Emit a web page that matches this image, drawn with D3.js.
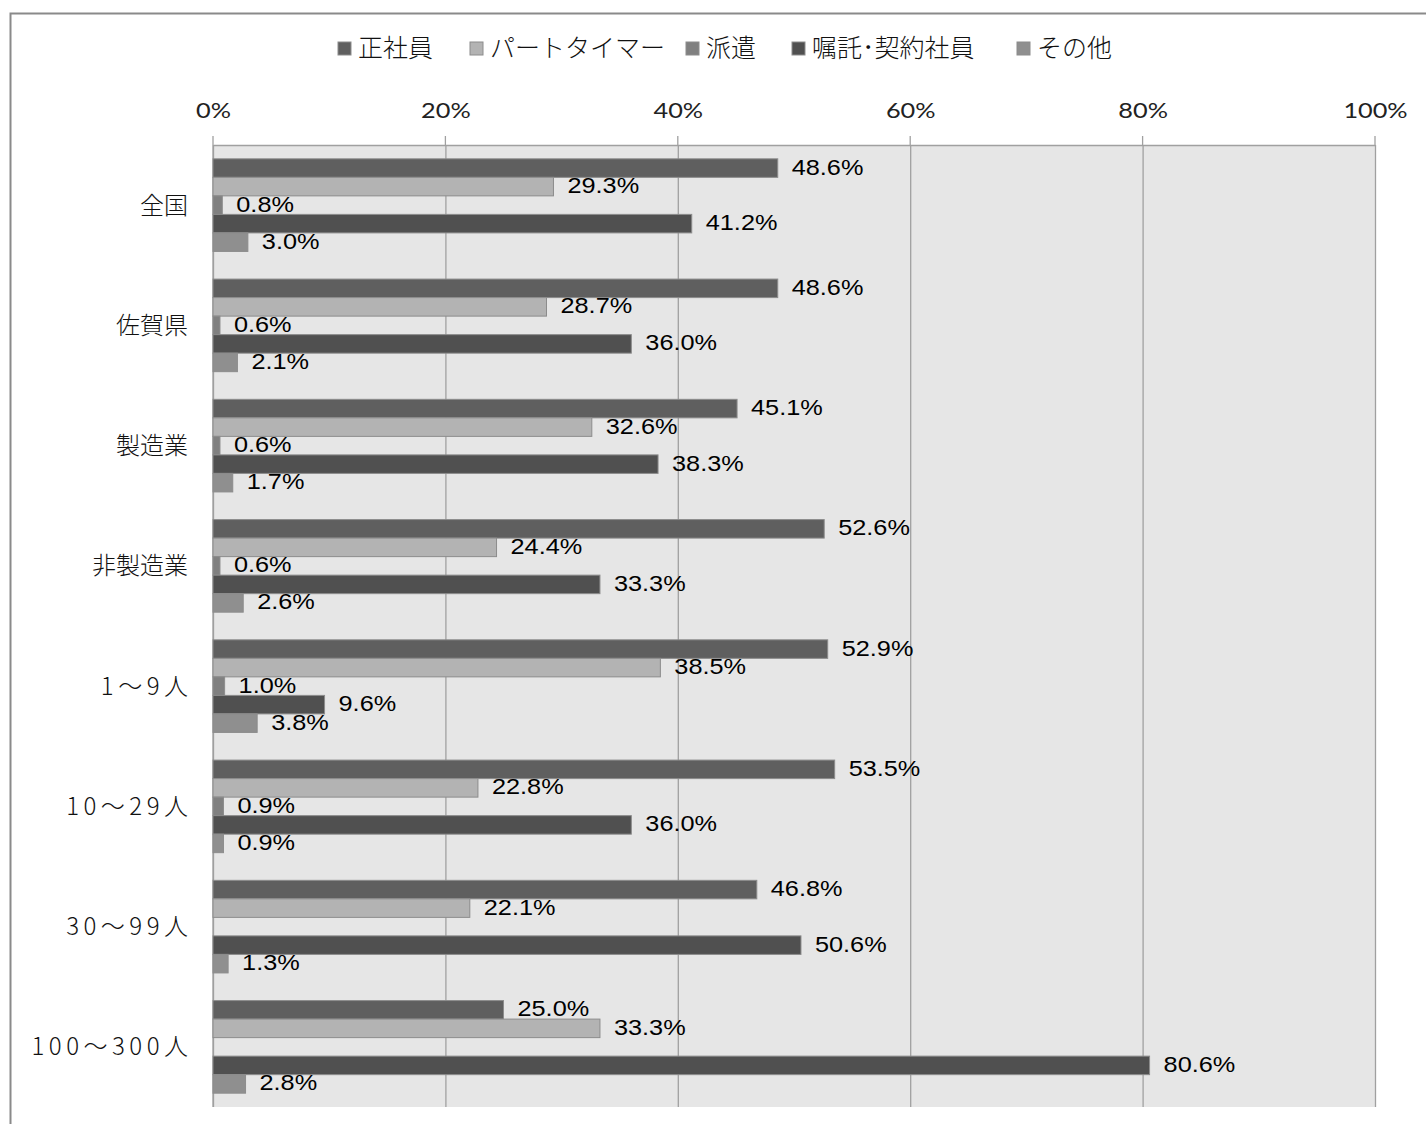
<!DOCTYPE html>
<html>
<head>
<meta charset="utf-8">
<script src="https://cdn.jsdelivr.net/npm/d3@7"></script>
<style>
  html, body { margin: 0; padding: 0; background: #fff; }
  svg { display: block; }
</style>
</head>
<body>
<svg id="chart" width="1426" height="1124"></svg>
<script>
// Employment type breakdown by region / industry / company size (%)
const categories = ["全国", "佐賀県", "製造業", "非製造業", "1～9人", "10～29人", "30～99人", "100～300人"];
const seriesNames = ["正社員", "パートタイマー", "派遣", "嘱託･契約社員", "その他"];
const seiShain   = [48.6, 48.6, 45.1, 52.6, 52.9, 53.5, 46.8, 25.0];
const partTimer  = [29.3, 28.7, 32.6, 24.4, 38.5, 22.8, 22.1, 33.3];
const haken      = [0.8, 0.6, 0.6, 0.6, 1.0, 0.9, null, null];
const shokutaku  = [41.2, 36.0, 38.3, 33.3, 9.6, 36.0, 50.6, 80.6];
const sonota     = [3.0, 2.1, 1.7, 2.6, 3.8, 0.9, 1.3, 2.8];
const tickValues = [0, 20, 40, 60, 80, 100];

const seriesValues = [seiShain, partTimer, haken, shokutaku, sonota];
const colors = ["#5f5f5f", "#b3b3b3", "#808080", "#505050", "#8f8f8f"];

const svg = d3.select("#chart");
const plot = { left: 213, right: 1375, top: 145, bottom: 1107 };
const stretch = 1.15; // wide text setting

// outer frame
svg.append("rect")
  .attr("x", 10.5).attr("y", 13.5)
  .attr("width", 1430).attr("height", 1130)
  .attr("fill", "none").attr("stroke", "#8a8a8a").attr("stroke-width", 2);

const x = d3.scaleLinear().domain([0, 100]).range([plot.left, plot.right]);
const y0 = d3.scaleBand().domain(categories).range([plot.top, plot.bottom])
  .paddingInner(0.23).paddingOuter(0.115);
const y1 = d3.scaleBand().domain(seriesNames).range([0, y0.bandwidth()]);

// plot background
svg.append("rect")
  .attr("x", plot.left).attr("y", plot.top)
  .attr("width", plot.right - plot.left).attr("height", plot.bottom - plot.top)
  .attr("fill", "#e6e6e6");

// gridlines + top axis
const axis = d3.axisTop(x).tickValues(tickValues)
  .tickFormat(d => d + "%")
  .tickSize(-(plot.bottom - plot.top)).tickSizeOuter(0).tickPadding(27);
const gAxis = svg.append("g").attr("transform", `translate(0,${plot.top})`).call(axis);
gAxis.select(".domain").attr("stroke", "#a0a0a0").attr("stroke-width", 1.5);
gAxis.selectAll(".tick line").attr("stroke", "#a0a0a0").attr("stroke-width", 1.3);
gAxis.selectAll(".tick text")
  .attr("font-family", "Lato, 'Open Sans', sans-serif")
  .attr("font-size", 22).attr("fill", "#222")
  .attr("transform", function () {
    const yy = +d3.select(this).attr("y");
    return `translate(0,${yy}) scale(${stretch},1) translate(0,${-yy})`;
  });
// tick marks above the plot top
svg.append("g").selectAll("line").data(tickValues).join("line")
  .attr("x1", d => x(d)).attr("x2", d => x(d))
  .attr("y1", plot.top - 9).attr("y2", plot.top)
  .attr("stroke", "#a0a0a0").attr("stroke-width", 1.3);
// left axis line
svg.append("line")
  .attr("x1", plot.left).attr("x2", plot.left)
  .attr("y1", plot.top).attr("y2", plot.bottom)
  .attr("stroke", "#a0a0a0").attr("stroke-width", 1.3);

// category labels (size-class labels set with wider tracking)
const isSizeClass = d => /\d/.test(d);
svg.append("g").selectAll("text").data(categories).join("text")
  .attr("x", d => isSizeClass(d) ? 192.5 : 188)
  .attr("y", d => y0(d) + y0.bandwidth() / 2 - 2)
  .attr("text-anchor", "end")
  .attr("dominant-baseline", "central")
  .attr("letter-spacing", d => isSizeClass(d) ? 4.5 : 0)
  .attr("font-family", "'Noto Sans CJK JP', sans-serif")
  .attr("font-weight", 300)
  .attr("font-size", 24).attr("fill", "#111")
  .text(d => d);

// bars
const flat = [];
categories.forEach((c, i) => {
  seriesNames.forEach((s, j) => {
    const v = seriesValues[j][i];
    if (v !== null) flat.push({ c, s, j, v });
  });
});

svg.append("g").selectAll("rect").data(flat).join("rect")
  .attr("x", plot.left)
  .attr("y", d => y0(d.c) + y1(d.s))
  .attr("width", d => x(d.v) - x(0))
  .attr("height", y1.bandwidth())
  .attr("fill", d => colors[d.j])
  .attr("stroke", "#8c8c8c").attr("stroke-width", 1);

// value labels
svg.append("g").selectAll("text").data(flat).join("text")
  .attr("transform", d =>
    `translate(${x(d.v) + 14},${y0(d.c) + y1(d.s) + y1.bandwidth() / 2 - 1}) scale(${stretch},1)`)
  .attr("dominant-baseline", "central")
  .attr("font-family", "'Liberation Sans', Arial, sans-serif")
  .attr("font-size", 22).attr("fill", "#000")
  .text(d => d.v.toFixed(1) + "%");

// legend
const legendX = [338, 470, 686, 792, 1017];
const lg = svg.append("g").selectAll("g").data(seriesNames).join("g")
  .attr("transform", (d, i) => `translate(${legendX[i]},48)`);
lg.append("rect")
  .attr("x", 0).attr("y", -6).attr("width", 13).attr("height", 13)
  .attr("fill", (d, i) => colors[i]).attr("stroke", "#8c8c8c").attr("stroke-width", 1);
lg.append("text")
  .attr("x", 20).attr("y", -2)
  .attr("dominant-baseline", "central")
  .attr("font-family", "'Noto Sans CJK JP', sans-serif")
  .attr("font-weight", 300)
  .attr("font-size", 25).attr("fill", "#111")
  .text(d => d);
</script>
</body>
</html>
